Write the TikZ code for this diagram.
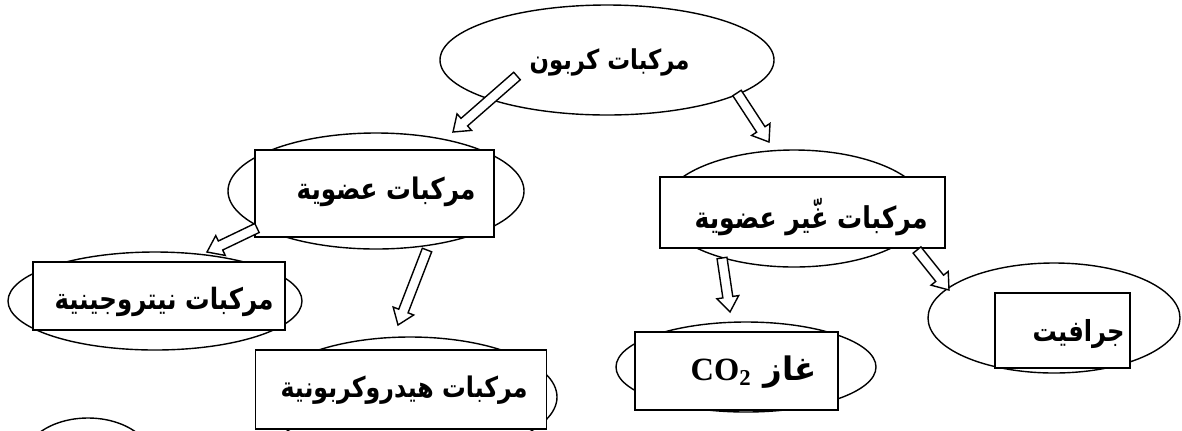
\documentclass[tikz,border=0pt]{standalone}
\usepackage{fontspec}
\setmainfont{Liberation Serif}
\newfontfamily\arabicfont[Script=Arabic]{DejaVu Sans}
\TeXXeTstate=1
\usetikzlibrary{shapes.geometric,calc}
\tikzset{
  ell/.style={draw, ellipse, line width=0.7pt, inner sep=0pt, fill=white},
  boxn/.style={draw, rectangle, line width=0.7pt, fill=white, inner sep=0pt},
  lbl/.style={inner sep=0pt, anchor=east, font=\arabicfont\bfseries},
  harrow/.style={draw, fill=white, line width=0.7pt, line join=miter},
}
\newcommand\artext[2]{\scalebox{1}[1.2]{\resizebox{#1}{!}{#2}}}
\newcommand\hollowarr[2]{%
  \coordinate (#1h) at ($(#2)!7.5pt!(#1)$);
  \draw[harrow] ($(#1)!2.5pt!90:(#2)$) -- ($(#1h)!2.5pt!90:(#2)$) -- ($(#1h)!5.5pt!90:(#2)$) -- (#2)
     -- ($(#1h)!5.5pt!-90:(#2)$) -- ($(#1h)!2.5pt!-90:(#2)$) -- ($(#1)!2.5pt!-90:(#2)$) -- cycle;}
\begin{document}
\begin{tikzpicture}[x=0.5pt,y=-0.5pt]
\useasboundingbox (0,0) rectangle (1182,430);
\clip (0,0) rectangle (1182,430);
% ellipses
\node[ell, minimum width=167pt, minimum height=55pt] (carbon) at (607,60) {};
\node[ell, minimum width=148pt, minimum height=58pt] (orgell) at (376,191) {};
\node[ell, minimum width=147pt, minimum height=49pt] (nitell) at (155,301) {};
\node[ell, minimum width=147pt, minimum height=60pt] (hydell) at (410,397) {};
\node[ell, minimum width=66pt, minimum height=45pt] (smallell) at (88,463) {};
\node[ell, minimum width=132pt, minimum height=58.5pt] (inoell) at (794,208.5) {};
\node[ell, minimum width=130pt, minimum height=45pt] (co2ell) at (746,367) {};
\node[ell, minimum width=126pt, minimum height=55pt] (graell) at (1054,318) {};
% boxes
\node[boxn, minimum width=119.5pt, minimum height=43.5pt] (orgbox) at (374.5,193.5) {};
\node[boxn, minimum width=126pt, minimum height=34pt] (nitbox) at (159,296) {};
\node[boxn, minimum width=145.5pt, minimum height=39.5pt] (hydbox) at (401,389.5) {};
\node[boxn, minimum width=142.5pt, minimum height=35.5pt] (inobox) at (802.5,212.5) {};
\node[boxn, minimum width=101.5pt, minimum height=39pt] (co2box) at (736.5,371) {};
\node[boxn, minimum width=67.5pt, minimum height=37.5pt] (grabox) at (1062.5,330.5) {};
% texts
\node[lbl] (carbontxt) at (690,62) {\artext{80pt}{\beginR مركبات كربون\endR}};
\node[lbl] (orgtxt) at (476,192) {\artext{89.5pt}{\beginR مركبات عضوية\endR}};
\node[lbl] (nittxt) at (274,302) {\artext{109.5pt}{\beginR مركبات نيتروجينية\endR}};
\node[lbl] (hydtxt) at (528,390) {\artext{123.5pt}{\beginR مركبات هيدروكربونية\endR}};
\node[lbl] (inotxt) at (928,217) {\artext{116.5pt}{\beginR مركبات غّير عضوية\endR}};
\node[lbl] (co2txt) at (817,372) {\resizebox{63pt}{!}{\beginR غاز \beginL{\rmfamily\bfseries CO\textsubscript{2}}\endL\endR}};
\node[lbl] (gratxt) at (1125,334) {\artext{46pt}{\beginR جرافيت\endR}};
% arrow end points
\coordinate (a1s) at (517,76);  \coordinate (a1t) at (453,132);
\coordinate (a2s) at (737,93);  \coordinate (a2t) at (769,142);
\coordinate (a3s) at (257,228); \coordinate (a3t) at (207,252);
\coordinate (a4s) at (427,250); \coordinate (a4t) at (398,325);
\coordinate (a5s) at (722,258); \coordinate (a5t) at (730,312);
\coordinate (a6s) at (917,250); \coordinate (a6t) at (949,290);
\hollowarr{a1s}{a1t}
\hollowarr{a2s}{a2t}
\hollowarr{a3s}{a3t}
\hollowarr{a4s}{a4t}
\hollowarr{a5s}{a5t}
\hollowarr{a6s}{a6t}
\end{tikzpicture}
\end{document}
